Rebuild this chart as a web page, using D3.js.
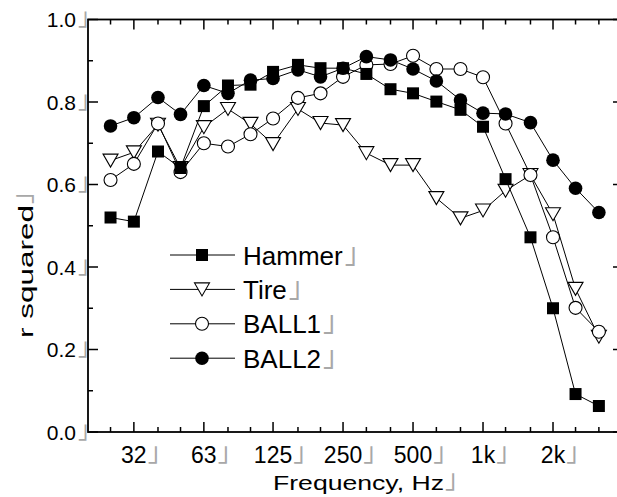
<!DOCTYPE html>
<html><head><meta charset="utf-8">
<script src="https://cdn.jsdelivr.net/npm/d3@7"></script>
<style>body{margin:0;background:#fff}</style>
</head><body>
<script>
// ---- data ----
const freqs = [25,31.5,40,50,63,80,100,125,160,200,250,315,400,500,630,800,1000,1250,1600,2000,2500,3150];
const hammer = [0.520,0.510,0.680,0.640,0.790,0.840,0.842,0.873,0.890,0.882,0.882,0.868,0.831,0.821,0.801,0.781,0.740,0.613,0.472,0.300,0.092,0.063];
const tire   = [0.658,0.678,0.745,0.640,0.739,0.783,0.747,0.698,0.783,0.749,0.744,0.676,0.647,0.647,0.567,0.518,0.537,0.585,0.623,0.528,0.347,0.231];
const ball1  = [0.611,0.650,0.748,0.630,0.700,0.692,0.722,0.760,0.810,0.821,0.861,0.890,0.892,0.912,0.880,0.880,0.860,0.748,0.623,0.472,0.301,0.243];
const ball2  = [0.742,0.762,0.811,0.770,0.840,0.821,0.853,0.857,0.878,0.861,0.882,0.910,0.902,0.880,0.851,0.805,0.773,0.771,0.750,0.659,0.591,0.532];
const xTickFreqs  = [31.5,63,125,250,500,1000,2000];
const xTickLabels = ["32","63","125","250","500","1k","2k"];
const yTickValues = [0,0.2,0.4,0.6,0.8,1.0];
const yTickLabels = ["0.0","0.2","0.4","0.6","0.8","1.0"];
const yMinorValues = [0.1,0.3,0.5,0.7,0.9];
const seriesNames = ["Hammer","Tire","BALL1","BALL2"];
const xTitle = "Frequency, Hz";
const yTitle = "r squared";
const MARK = "\u300D";

// ---- layout ----
const W = 617, H = 497;
const FONT = "'Liberation Sans', Arial, sans-serif";
const x = d3.scaleLog().domain([20, 4000]).range([88, 623]);
const y = d3.scaleLinear().domain([0, 1]).range([432, 19.5]);
const [x0, x1] = x.range(), [y0, y1] = y.range();

const svg = d3.select("body").append("svg").attr("width", W).attr("height", H)
  .style("font-family", FONT);

// frame
svg.append("rect").attr("x", x0).attr("y", y1).attr("width", x1 - x0).attr("height", y0 - y1)
  .attr("fill", "none").attr("stroke", "#000").attr("stroke-width", 1.8);

// x ticks (bottom and top, inward)
const isMajorF = f => xTickFreqs.includes(f);
const tg = svg.append("g").attr("stroke", "#000").attr("stroke-width", 1.5);
freqs.forEach(f => {
  const len = isMajorF(f) ? 10 : 5;
  tg.append("line").attr("x1", x(f)).attr("x2", x(f)).attr("y1", y0).attr("y2", y0 - len);
  tg.append("line").attr("x1", x(f)).attr("x2", x(f)).attr("y1", y1).attr("y2", y1 + len);
});
// y ticks (left and right, inward)
yTickValues.concat(yMinorValues).forEach(v => {
  const len = yTickValues.includes(v) ? 10 : 5;
  tg.append("line").attr("x1", x0).attr("x2", x0 + len).attr("y1", y(v)).attr("y2", y(v));
  tg.append("line").attr("x1", x1).attr("x2", x1 - len).attr("y1", y(v)).attr("y2", y(v));
});

// grey trailing corner glyph seen after every text in the source figure
function addMark(t, dx, size) {
  t.append("tspan").attr("dx", dx).attr("dy", -2).attr("fill", "#a8a8a8")
    .style("font-family", "'Noto Sans CJK JP'").style("font-size", size + "px").text(MARK);
}

// y tick labels
yTickValues.forEach((v, i) => {
  const t = svg.append("text").attr("y", y(v) + 7.5).style("font-size", "21px");
  const num = t.append("tspan").text(yTickLabels[i]);
  addMark(t, 2, 24);
  const w = num.node().getComputedTextLength();
  t.attr("x", 76 - w);
});

// x tick labels
xTickFreqs.forEach((f, i) => {
  const t = svg.append("text").attr("y", 463).style("font-size", "23px");
  const num = t.append("tspan").text(xTickLabels[i]);
  addMark(t, 1, 26);
  const w = num.node().getComputedTextLength();
  t.attr("x", x(f) - w / 2);
});

// axis titles
{
  const t = svg.append("text").attr("x", 273).attr("y", 490).style("font-size", "21px");
  t.append("tspan").attr("textLength", 171).attr("lengthAdjust", "spacingAndGlyphs").text(xTitle);
  addMark(t, 1, 26);
}
{
  const t = svg.append("text").attr("transform", "translate(33,338) rotate(-90)").style("font-size", "21px");
  t.append("tspan").attr("textLength", 133).attr("lengthAdjust", "spacingAndGlyphs").text(yTitle);
  addMark(t, 1, 26);
}

// markers
function drawMarker(g, kind, cx, cy) {
  if (kind === 0) {
    g.append("rect").attr("x", cx - 6).attr("y", cy - 6).attr("width", 12).attr("height", 12).attr("fill", "#000");
  } else if (kind === 1) {
    g.append("path").attr("d", `M${cx-7.5},${cy-6.5}L${cx+7.5},${cy-6.5}L${cx},${cy+6.5}Z`)
      .attr("fill", "#fff").attr("stroke", "#000").attr("stroke-width", 1.1);
  } else if (kind === 2) {
    g.append("circle").attr("cx", cx).attr("cy", cy).attr("r", 6.5)
      .attr("fill", "#fff").attr("stroke", "#000").attr("stroke-width", 1.1);
  } else {
    g.append("circle").attr("cx", cx).attr("cy", cy).attr("r", 6.8).attr("fill", "#000");
  }
}

const seriesData = [hammer, tire, ball1, ball2];
const drawOrder = [1, 2, 3, 0];
const line = d3.line().x((d, i) => x(freqs[i])).y(d => y(d));
drawOrder.forEach(k => {
  const g = svg.append("g");
  g.append("path").attr("d", line(seriesData[k])).attr("fill", "none").attr("stroke", "#000").attr("stroke-width", 1);
  seriesData[k].forEach((v, i) => drawMarker(g, k, x(freqs[i]), y(v)));
});

// legend
seriesNames.forEach((name, k) => {
  const ry = 255 + 34.4 * k;
  const g = svg.append("g");
  g.append("line").attr("x1", 170).attr("x2", 235).attr("y1", ry).attr("y2", ry)
    .attr("stroke", "#000").attr("stroke-width", 1);
  drawMarker(g, k, 202, ry);
  const t = g.append("text").attr("x", 243).attr("y", ry + 9.5).style("font-size", "26px");
  t.append("tspan").text(name);
  addMark(t, 2, 28);
});
</script>
</body></html>
